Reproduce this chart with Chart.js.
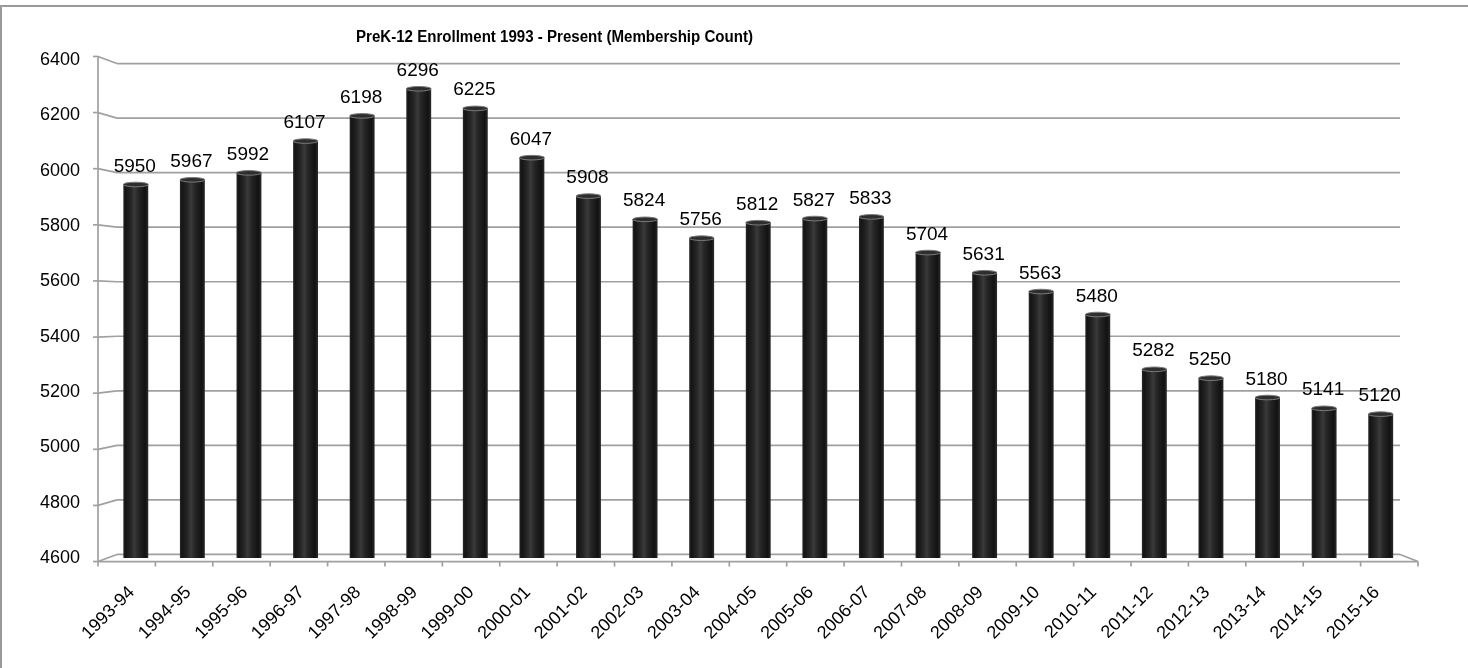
<!DOCTYPE html>
<html>
<head>
<meta charset="utf-8">
<script src="https://cdn.jsdelivr.net/npm/chart.js@4.4.1/dist/chart.umd.min.js"></script>
<style>
html,body{margin:0;padding:0;background:#fff;}
#wrap{width:1468px;height:668px;position:relative;}
</style>
</head>
<body>
<div id="wrap"><canvas id="c" width="1468" height="668"></canvas></div>
<script>
const chartTitle = 'PreK-12 Enrollment 1993 - Present (Membership Count)';
const categories = ['1993-94','1994-95','1995-96','1996-97','1997-98','1998-99','1999-00','2000-01','2001-02','2002-03','2003-04','2004-05','2005-06','2006-07','2007-08','2008-09','2009-10','2010-11','2011-12','2012-13','2013-14','2014-15','2015-16'];
const enrollment = [5950,5967,5992,6107,6198,6296,6225,6047,5908,5824,5756,5812,5827,5833,5704,5631,5563,5480,5282,5250,5180,5141,5120];
const yMin = 4600;
const yMax = 6400;
const yStep = 200;

// perspective helpers (vanishing point and depth scales)
const VX = 776, VY = 309, SM = 0.986, SF = 1.0, SB = 0.972;
function proj(xm, ym, s){ return [VX + (xm - VX) * s / SM, VY + (ym - VY) * s / SM]; }

function barFill(ctx){
  const chart = ctx.chart;
  if (!chart.chartArea || !chart.scales.x) return '#222';
  const xs = chart.scales.x;
  const cx = xs.getPixelForValue(ctx.dataIndex);
  const w = (xs.width / categories.length) * 0.44;
  const g = chart.ctx.createLinearGradient(cx - w/2, 0, cx + w/2, 0);
  g.addColorStop(0, '#2a2a2a');
  g.addColorStop(0.08, '#141414');
  g.addColorStop(0.3, '#262626');
  g.addColorStop(0.45, '#3a3a3a');
  g.addColorStop(0.6, '#262626');
  g.addColorStop(0.88, '#121212');
  g.addColorStop(1, '#2c2c2c');
  return g;
}

const frame3d = {
  id: 'frame3d',
  beforeDraw(chart){
    const c = chart.ctx;
    c.save();
    c.fillStyle = '#fff';
    c.fillRect(0,0,chart.width,chart.height);
    c.strokeStyle = '#9a9a9a';
    c.lineWidth = 2;
    c.strokeRect(1, 6, 1600, 800);
    c.restore();
  },
  beforeDatasetsDraw(chart){
    const c = chart.ctx, a = chart.chartArea, ys = chart.scales.y;
    c.save();
    c.strokeStyle = '#a0a0a0';
    c.lineWidth = 1.7;
    c.lineCap = 'butt';
    const line = (p, q) => { c.beginPath(); c.moveTo(p[0], p[1]); c.lineTo(q[0], q[1]); c.stroke(); };
    for (let v = yMin; v <= yMax; v += yStep){
      const ym = ys.getPixelForValue(v);
      const bl = proj(a.left, ym, SB), br = proj(a.right, ym, SB), fl = proj(a.left, ym, SF);
      line(bl, br);
      line(fl, bl);
      line([fl[0]-5, fl[1]], fl);
    }
    line(proj(a.left, a.top, SF), proj(a.left, a.bottom, SF));
    const ff = proj(a.left, a.bottom, SF), fr = proj(a.right, a.bottom, SF), brr = proj(a.right, a.bottom, SB);
    line(ff, fr);
    line(fr, brr);
    const n = categories.length, cw = (a.right - a.left) / n;
    for (let i = 0; i <= n; i++){
      const p = proj(a.left + i*cw, a.bottom, SF);
      line(p, [p[0], p[1] + 5]);
    }
    c.restore();
  },
  afterDatasetsDraw(chart){
    const c = chart.ctx;
    const meta = chart.getDatasetMeta(0);
    c.save();
    meta.data.forEach((bar, i) => {
      const w = bar.width;
      c.beginPath();
      c.ellipse(bar.x, bar.y, w/2, 2.3, 0, 0, Math.PI*2);
      c.fillStyle = '#2e2e2e';
      c.fill();
      c.strokeStyle = '#7a7a7a';
      c.lineWidth = 1;
      c.stroke();
      c.fillStyle = '#000';
      c.font = '19px "Liberation Sans", Arial, sans-serif';
      c.textAlign = 'center';
      c.textBaseline = 'alphabetic';
      c.fillText(String(enrollment[i]), bar.x - 1, bar.y - 13);
    });
    c.font = 'bold 16px "Liberation Sans", Arial, sans-serif';
    c.textAlign = 'left';
    c.fillStyle = '#000';
    const tw = c.measureText(chartTitle).width;
    c.translate(356, 42);
    c.scale(397 / tw, 1);
    c.fillText(chartTitle, 0, 0);
    c.restore();
  }
};

new Chart(document.getElementById('c'), {
  type: 'bar',
  data: {
    labels: categories,
    datasets: [{
      data: enrollment,
      backgroundColor: barFill,
      borderWidth: 0,
      barPercentage: 0.44,
      categoryPercentage: 1.0
    }]
  },
  options: {
    responsive: false,
    animation: false,
    devicePixelRatio: 1,
    layout: { padding: { left: 0, top: 60, right: 59, bottom: 0 } },
    plugins: { legend: { display: false }, tooltip: { enabled: false }, title: { display: false } },
    scales: {
      x: {
        grid: { display: false, drawTicks: false },
        border: { display: false },
        ticks: {
          autoSkip: false, minRotation: 45, maxRotation: 45, padding: 24, labelOffset: -4,
          color: '#000', font: { family: '"Liberation Sans", Arial, sans-serif', size: 18 }
        },
        afterFit: s => { s.height = 110; }
      },
      y: {
        min: yMin, max: yMax,
        grid: { display: false, drawTicks: false },
        border: { display: false },
        ticks: {
          stepSize: yStep, padding: 27.5, color: '#000',
          font: { family: '"Liberation Sans", Arial, sans-serif', size: 18 },
          callback: v => String(v)
        },
        afterFit: s => { s.width = 107.5; }
      }
    }
  },
  plugins: [frame3d]
});
</script>
</body>
</html>
